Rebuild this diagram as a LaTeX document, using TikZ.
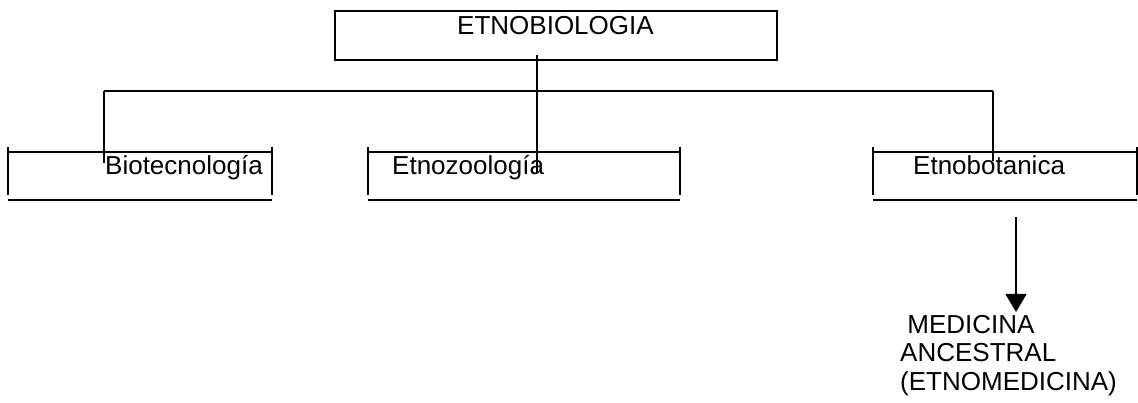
\documentclass[tikz,border=0pt]{standalone}
\usepackage{fontspec}
\setmainfont{Liberation Sans}
\usetikzlibrary{arrows.meta}
\begin{document}
\begin{tikzpicture}[x=1pt,y=-1pt,
  lbl/.style={anchor=base west,inner sep=0pt,font=\fontsize{26}{28}\selectfont},
  ln/.style={line width=1.3pt,black},
  boxside/.style={line width=1.4pt,black}]
\useasboundingbox (0,0) rectangle (1138,403);
% root box
\node[draw,line width=2.2pt,minimum width=442pt,minimum height=49pt,inner sep=0pt] (root) at (556,35.5) {};
\node[lbl] (roott) at (457,35) {ETNOBIOLOGIA};
% child boxes
\foreach \nm/\l/\r in {b1/8/272, b2/368/680, b3/873/1137}{
  \coordinate (\nm tl) at (\l,152);
  \coordinate (\nm tr) at (\r,152);
  \draw[boxside] (\l,152) -- (\r,152);
  \draw[boxside] (\l,147) -- (\l,195);
  \draw[boxside] (\r,147) -- (\r,195);
  \draw[boxside] (\l,200) -- (\r,200);
}
\node[lbl] (bio) at (105,175) {Biotecnología};
\node[lbl] (zoo) at (392,175) {Etnozoología};
\node[lbl] (bot) at (913,175) {Etnobotanica};
% connectors
\coordinate (rs) at (537,55);
\coordinate (hl) at (104,91);
\coordinate (hr) at (993,91);
\coordinate (e1) at (104,163);
\coordinate (e2) at (537,173);
\coordinate (e3) at (993,161);
\draw[ln] (rs) -- (e2);
\draw[ln] (hl) -- (hr);
\draw[ln] (hl) -- (e1);
\draw[ln] (hr) -- (e3);
% arrow
\node[lbl,align=left,anchor=base west,font=\fontsize{26}{28.5}\selectfont] (med) at (900,390) {\ MEDICINA\\ANCESTRAL\\(ETNOMEDICINA)};
\coordinate (as) at (1016,217);
\coordinate (ae) at (1016,312);
\draw[ln,-{Triangle[length=18pt,width=21pt]}] (as) -- (ae);
\end{tikzpicture}
\end{document}
